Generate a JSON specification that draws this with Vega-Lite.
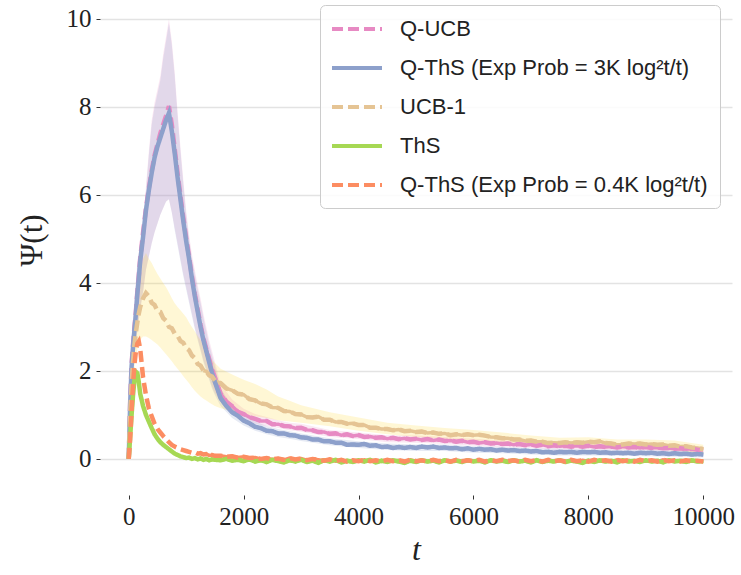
{
"$schema": "https://vega.github.io/schema/vega-lite/v6.json",
"width": 632, "height": 495,
"autosize": {"type": "none"},
"padding": {"left": 100, "top": 0, "right": 9, "bottom": 80},
"background": "white",
"config": {
  "view": {"stroke": null},
  "axis": {"labelFont": "Liberation Serif", "labelFontSize": 25, "labelColor": "#222222", "titleFont": "Liberation Serif", "titleColor": "#222222", "titleFontWeight": "normal", "domain": false, "tickColor": "#333333", "tickSize": 4, "tickWidth": 1, "gridColor": "#e3e3e3", "gridWidth": 1.6, "labelPadding": 5},
  "axisX": {"grid": false, "titleFontSize": 32, "titleFontStyle": "italic", "titleBaseline": "alphabetic", "titleY": 64, "format": "d"},
  "axisY": {"grid": true, "titleFontSize": 31, "titleX": -68, "titleY": 240, "titleBaseline": "middle"},
  "legend": {"orient": "none", "legendX": 220, "legendY": 5, "labelFont": "Liberation Sans", "labelFontSize": 22, "labelColor": "#222222", "labelLimit": 500, "symbolType": "M-2.5,0H2.5", "symbolSize": 400, "symbolStrokeWidth": 4, "symbolOffset": 13, "labelOffset": 31, "strokeColor": "#cccccc", "fillColor": "rgba(255,255,255,0.85)", "cornerRadius": 5, "padding": 12, "rowPadding": 16}
},
"datasets": {
"lines": [
{"t":0,"a":0,"b":0,"c":0,"d":0,"e":0},
{"t":25,"a":1.3,"b":1.25,"c":1.0,"d":0.5,"e":0.45},
{"t":50,"a":2.15,"b":2.1,"c":1.7,"d":1.0,"e":1.1},
{"t":75,"a":2.6,"b":2.55,"c":2.2,"d":1.45,"e":1.7},
{"t":100,"a":3.0,"b":2.95,"c":2.6,"d":1.8,"e":2.15},
{"t":125,"a":3.35,"b":3.3,"c":2.88,"d":1.98,"e":2.45},
{"t":150,"a":3.8,"b":3.75,"c":3.1,"d":1.95,"e":2.62},
{"t":175,"a":4.15,"b":4.1,"c":3.3,"d":1.75,"e":2.67},
{"t":200,"a":4.55,"b":4.5,"c":3.45,"d":1.48,"e":2.5},
{"t":250,"a":5.15,"b":5.05,"c":3.65,"d":1.2,"e":1.85},
{"t":300,"a":5.7,"b":5.65,"c":3.77,"d":1.0,"e":1.45},
{"t":350,"a":6.15,"b":6.1,"c":3.7,"d":0.85,"e":1.15},
{"t":400,"a":6.55,"b":6.5,"c":3.55,"d":0.7,"e":0.97},
{"t":450,"a":6.9,"b":6.85,"c":3.5,"d":0.56,"e":0.8},
{"t":500,"a":7.15,"b":7.1,"c":3.36,"d":0.46,"e":0.68},
{"t":550,"a":7.4,"b":7.3,"c":3.34,"d":0.38,"e":0.6},
{"t":600,"a":7.6,"b":7.5,"c":3.2,"d":0.32,"e":0.52},
{"t":650,"a":7.8,"b":7.7,"c":3.14,"d":0.27,"e":0.45},
{"t":700,"a":8.02,"b":7.86,"c":3.0,"d":0.22,"e":0.38},
{"t":750,"a":7.6,"b":7.45,"c":2.97,"d":0.17,"e":0.32},
{"t":800,"a":7.05,"b":6.95,"c":2.85,"d":0.12,"e":0.28},
{"t":850,"a":6.5,"b":6.4,"c":2.8,"d":0.09,"e":0.25},
{"t":900,"a":5.98,"b":5.9,"c":2.68,"d":0.06,"e":0.22},
{"t":950,"a":5.48,"b":5.4,"c":2.64,"d":0.04,"e":0.2},
{"t":1000,"a":5.02,"b":4.95,"c":2.52,"d":0.02,"e":0.18},
{"t":1050,"a":4.6,"b":4.55,"c":2.47,"d":0.03,"e":0.16},
{"t":1100,"a":4.15,"b":4.1,"c":2.35,"d":0.0,"e":0.14},
{"t":1150,"a":3.75,"b":3.7,"c":2.29,"d":0.02,"e":0.15},
{"t":1200,"a":3.4,"b":3.35,"c":2.16,"d":-0.01,"e":0.12},
{"t":1250,"a":3.05,"b":3.0,"c":2.12,"d":0.01,"e":0.13},
{"t":1300,"a":2.75,"b":2.7,"c":2.01,"d":-0.02,"e":0.1},
{"t":1350,"a":2.5,"b":2.45,"c":1.99,"d":0.0,"e":0.11},
{"t":1400,"a":2.27,"b":2.2,"c":1.9,"d":-0.03,"e":0.08},
{"t":1450,"a":2.03,"b":1.95,"c":1.87,"d":-0.01,"e":0.09},
{"t":1500,"a":1.85,"b":1.75,"c":1.78,"d":-0.02,"e":0.07},
{"t":1600,"a":1.48,"b":1.38,"c":1.72,"d":-0.03,"e":0.07},
{"t":1700,"a":1.3,"b":1.2,"c":1.6,"d":0.0,"e":0.05},
{"t":1800,"a":1.2,"b":1.06,"c":1.56,"d":-0.04,"e":0.06},
{"t":1900,"a":1.07,"b":0.98,"c":1.48,"d":-0.02,"e":0.03},
{"t":2000,"a":1.02,"b":0.87,"c":1.46,"d":-0.05,"e":0.05},
{"t":2100,"a":0.95,"b":0.81,"c":1.36,"d":-0.01,"e":0.02},
{"t":2200,"a":0.91,"b":0.73,"c":1.33,"d":-0.06,"e":0.03},
{"t":2300,"a":0.86,"b":0.7,"c":1.26,"d":-0.03,"e":0.0},
{"t":2400,"a":0.86,"b":0.64,"c":1.24,"d":-0.07,"e":0.02},
{"t":2500,"a":0.79,"b":0.63,"c":1.17,"d":-0.02,"e":-0.01},
{"t":2600,"a":0.79,"b":0.58,"c":1.16,"d":-0.05,"e":0.01},
{"t":2700,"a":0.75,"b":0.58,"c":1.09,"d":-0.08,"e":-0.02},
{"t":2800,"a":0.74,"b":0.54,"c":1.08,"d":-0.03,"e":0.02},
{"t":2900,"a":0.7,"b":0.53,"c":1.02,"d":-0.06,"e":-0.01},
{"t":3000,"a":0.71,"b":0.49,"c":1.01,"d":-0.02,"e":0.01},
{"t":3100,"a":0.66,"b":0.48,"c":0.95,"d":-0.07,"e":-0.03},
{"t":3200,"a":0.65,"b":0.44,"c":0.94,"d":-0.04,"e":0.0},
{"t":3300,"a":0.61,"b":0.44,"c":0.96,"d":-0.09,"e":-0.02},
{"t":3400,"a":0.61,"b":0.4,"c":0.89,"d":-0.03,"e":-0.04},
{"t":3500,"a":0.57,"b":0.4,"c":0.89,"d":-0.06,"e":-0.01},
{"t":3600,"a":0.58,"b":0.37,"c":0.84,"d":-0.02,"e":-0.05},
{"t":3700,"a":0.54,"b":0.37,"c":0.84,"d":-0.08,"e":-0.02},
{"t":3800,"a":0.56,"b":0.32,"c":0.8,"d":-0.04,"e":-0.06},
{"t":3900,"a":0.52,"b":0.33,"c":0.81,"d":-0.07,"e":-0.03},
{"t":4000,"a":0.54,"b":0.32,"c":0.77,"d":-0.03,"e":-0.05},
{"t":4100,"a":0.5,"b":0.34,"c":0.77,"d":-0.06,"e":-0.02},
{"t":4200,"a":0.51,"b":0.3,"c":0.71,"d":-0.02,"e":-0.05},
{"t":4300,"a":0.48,"b":0.31,"c":0.71,"d":-0.08,"e":-0.03},
{"t":4400,"a":0.49,"b":0.27,"c":0.68,"d":-0.04,"e":-0.06},
{"t":4500,"a":0.46,"b":0.28,"c":0.68,"d":-0.07,"e":-0.02},
{"t":4600,"a":0.48,"b":0.25,"c":0.65,"d":-0.03,"e":-0.05},
{"t":4700,"a":0.45,"b":0.27,"c":0.67,"d":-0.06,"e":-0.03},
{"t":4800,"a":0.47,"b":0.25,"c":0.63,"d":-0.09,"e":-0.06},
{"t":4900,"a":0.44,"b":0.27,"c":0.64,"d":-0.04,"e":-0.02},
{"t":5000,"a":0.46,"b":0.25,"c":0.61,"d":-0.07,"e":-0.05},
{"t":5100,"a":0.43,"b":0.28,"c":0.62,"d":-0.03,"e":-0.03},
{"t":5200,"a":0.45,"b":0.26,"c":0.59,"d":-0.06,"e":-0.06},
{"t":5300,"a":0.42,"b":0.28,"c":0.6,"d":-0.04,"e":-0.02},
{"t":5400,"a":0.44,"b":0.25,"c":0.57,"d":-0.08,"e":-0.05},
{"t":5500,"a":0.41,"b":0.26,"c":0.58,"d":-0.03,"e":-0.03},
{"t":5600,"a":0.42,"b":0.24,"c":0.54,"d":-0.06,"e":-0.06},
{"t":5700,"a":0.39,"b":0.25,"c":0.56,"d":-0.04,"e":-0.02},
{"t":5800,"a":0.41,"b":0.22,"c":0.54,"d":-0.07,"e":-0.05},
{"t":5900,"a":0.38,"b":0.24,"c":0.56,"d":-0.03,"e":-0.03},
{"t":6000,"a":0.39,"b":0.21,"c":0.54,"d":-0.06,"e":-0.05},
{"t":6100,"a":0.36,"b":0.23,"c":0.55,"d":-0.04,"e":-0.02},
{"t":6200,"a":0.38,"b":0.21,"c":0.53,"d":-0.08,"e":-0.06},
{"t":6300,"a":0.35,"b":0.22,"c":0.5,"d":-0.03,"e":-0.03},
{"t":6400,"a":0.36,"b":0.19,"c":0.49,"d":-0.06,"e":-0.05},
{"t":6500,"a":0.34,"b":0.21,"c":0.47,"d":-0.04,"e":-0.02},
{"t":6600,"a":0.35,"b":0.19,"c":0.47,"d":-0.07,"e":-0.05},
{"t":6700,"a":0.32,"b":0.2,"c":0.44,"d":-0.03,"e":-0.03},
{"t":6800,"a":0.34,"b":0.18,"c":0.44,"d":-0.06,"e":-0.06},
{"t":6900,"a":0.31,"b":0.19,"c":0.41,"d":-0.04,"e":-0.02},
{"t":7000,"a":0.33,"b":0.17,"c":0.42,"d":-0.08,"e":-0.05},
{"t":7100,"a":0.3,"b":0.18,"c":0.39,"d":-0.03,"e":-0.03},
{"t":7200,"a":0.32,"b":0.15,"c":0.39,"d":-0.07,"e":-0.06},
{"t":7300,"a":0.29,"b":0.16,"c":0.36,"d":-0.04,"e":-0.02},
{"t":7400,"a":0.31,"b":0.14,"c":0.37,"d":-0.06,"e":-0.05},
{"t":7500,"a":0.29,"b":0.16,"c":0.36,"d":-0.03,"e":-0.03},
{"t":7600,"a":0.3,"b":0.15,"c":0.38,"d":-0.07,"e":-0.06},
{"t":7700,"a":0.28,"b":0.16,"c":0.36,"d":-0.04,"e":-0.02},
{"t":7800,"a":0.3,"b":0.14,"c":0.38,"d":-0.06,"e":-0.05},
{"t":7900,"a":0.28,"b":0.16,"c":0.37,"d":-0.09,"e":-0.03},
{"t":8000,"a":0.3,"b":0.15,"c":0.39,"d":-0.04,"e":-0.06},
{"t":8100,"a":0.27,"b":0.16,"c":0.38,"d":-0.07,"e":-0.02},
{"t":8200,"a":0.29,"b":0.14,"c":0.4,"d":-0.03,"e":-0.05},
{"t":8300,"a":0.27,"b":0.15,"c":0.36,"d":-0.06,"e":-0.03},
{"t":8400,"a":0.28,"b":0.13,"c":0.35,"d":-0.04,"e":-0.06},
{"t":8500,"a":0.26,"b":0.14,"c":0.32,"d":-0.08,"e":-0.02},
{"t":8600,"a":0.28,"b":0.13,"c":0.33,"d":-0.03,"e":-0.05},
{"t":8700,"a":0.26,"b":0.14,"c":0.35,"d":-0.06,"e":-0.03},
{"t":8800,"a":0.27,"b":0.12,"c":0.34,"d":-0.04,"e":-0.06},
{"t":8900,"a":0.25,"b":0.14,"c":0.35,"d":-0.07,"e":-0.02},
{"t":9000,"a":0.27,"b":0.13,"c":0.33,"d":-0.03,"e":-0.05},
{"t":9100,"a":0.25,"b":0.14,"c":0.34,"d":-0.06,"e":-0.03},
{"t":9200,"a":0.26,"b":0.12,"c":0.32,"d":-0.04,"e":-0.06},
{"t":9300,"a":0.24,"b":0.13,"c":0.33,"d":-0.08,"e":-0.02},
{"t":9400,"a":0.25,"b":0.11,"c":0.3,"d":-0.03,"e":-0.05},
{"t":9500,"a":0.23,"b":0.13,"c":0.31,"d":-0.06,"e":-0.03},
{"t":9600,"a":0.24,"b":0.11,"c":0.28,"d":-0.04,"e":-0.06},
{"t":9700,"a":0.22,"b":0.12,"c":0.29,"d":-0.07,"e":-0.03},
{"t":9800,"a":0.23,"b":0.1,"c":0.26,"d":-0.03,"e":-0.05},
{"t":9900,"a":0.21,"b":0.11,"c":0.25,"d":-0.06,"e":-0.04},
{"t":10000,"a":0.2,"b":0.1,"c":0.22,"d":-0.05,"e":-0.06}
],
"bands": [
{"t":0,"blo":0,"bhi":0,"plo":0,"phi":0,"ulo":0,"uhi":0},
{"t":50,"blo":1.7,"bhi":2.6,"plo":1.7,"phi":2.7,"ulo":1.3,"uhi":2.1},
{"t":100,"blo":2.4,"bhi":3.5,"plo":2.4,"phi":3.6,"ulo":2.1,"uhi":3.2},
{"t":150,"blo":2.9,"bhi":4.4,"plo":2.9,"phi":4.5,"ulo":2.5,"uhi":3.8},
{"t":200,"blo":3.4,"bhi":4.8,"plo":3.4,"phi":4.9,"ulo":2.7,"uhi":4.25},
{"t":250,"blo":3.8,"bhi":5.2,"plo":3.8,"phi":5.3,"ulo":2.78,"uhi":4.55},
{"t":300,"blo":4.3,"bhi":6.1,"plo":4.3,"phi":6.2,"ulo":2.78,"uhi":4.68},
{"t":350,"blo":4.6,"bhi":6.9,"plo":4.6,"phi":7.0,"ulo":2.75,"uhi":4.55},
{"t":400,"blo":4.9,"bhi":7.6,"plo":4.9,"phi":7.7,"ulo":2.7,"uhi":4.45},
{"t":450,"blo":5.15,"bhi":8.0,"plo":5.15,"phi":8.1,"ulo":2.65,"uhi":4.32},
{"t":500,"blo":5.35,"bhi":8.3,"plo":5.35,"phi":8.4,"ulo":2.6,"uhi":4.2},
{"t":550,"blo":5.55,"bhi":8.6,"plo":5.55,"phi":8.7,"ulo":2.53,"uhi":4.1},
{"t":600,"blo":5.7,"bhi":9.1,"plo":5.7,"phi":9.2,"ulo":2.45,"uhi":4.0},
{"t":650,"blo":5.85,"bhi":9.5,"plo":5.85,"phi":9.6,"ulo":2.38,"uhi":3.9},
{"t":700,"blo":5.9,"bhi":9.9,"plo":5.9,"phi":10.0,"ulo":2.3,"uhi":3.78},
{"t":750,"blo":5.6,"bhi":9.4,"plo":5.6,"phi":9.5,"ulo":2.22,"uhi":3.65},
{"t":800,"blo":5.2,"bhi":8.7,"plo":5.25,"phi":8.8,"ulo":2.13,"uhi":3.54},
{"t":850,"blo":4.85,"bhi":7.8,"plo":4.9,"phi":7.9,"ulo":2.05,"uhi":3.45},
{"t":900,"blo":4.5,"bhi":7.0,"plo":4.55,"phi":7.1,"ulo":1.97,"uhi":3.38},
{"t":950,"blo":4.15,"bhi":6.25,"plo":4.2,"phi":6.35,"ulo":1.88,"uhi":3.3},
{"t":1000,"blo":3.85,"bhi":5.55,"plo":3.9,"phi":5.65,"ulo":1.8,"uhi":3.22},
{"t":1050,"blo":3.55,"bhi":5.0,"plo":3.6,"phi":5.1,"ulo":1.72,"uhi":3.1},
{"t":1100,"blo":3.25,"bhi":4.55,"plo":3.3,"phi":4.65,"ulo":1.63,"uhi":3.0},
{"t":1150,"blo":2.95,"bhi":4.2,"plo":3.0,"phi":4.3,"ulo":1.55,"uhi":2.9},
{"t":1200,"blo":2.7,"bhi":3.85,"plo":2.75,"phi":3.95,"ulo":1.48,"uhi":2.8},
{"t":1250,"blo":2.45,"bhi":3.55,"plo":2.5,"phi":3.65,"ulo":1.42,"uhi":2.7},
{"t":1300,"blo":2.2,"bhi":3.2,"plo":2.25,"phi":3.3,"ulo":1.37,"uhi":2.6},
{"t":1350,"blo":2.0,"bhi":2.9,"plo":2.05,"phi":3.0,"ulo":1.33,"uhi":2.48},
{"t":1400,"blo":1.8,"bhi":2.6,"plo":1.85,"phi":2.7,"ulo":1.28,"uhi":2.35},
{"t":1450,"blo":1.6,"bhi":2.35,"plo":1.65,"phi":2.45,"ulo":1.24,"uhi":2.25},
{"t":1500,"blo":1.45,"bhi":2.1,"plo":1.5,"phi":2.2,"ulo":1.2,"uhi":2.18},
{"t":1600,"blo":1.2,"bhi":1.6,"plo":1.3,"phi":1.7,"ulo":1.15,"uhi":2.05},
{"t":1800,"blo":0.93,"bhi":1.2,"plo":1.05,"phi":1.35,"ulo":1.08,"uhi":1.92},
{"t":2000,"blo":0.76,"bhi":1.0,"plo":0.9,"phi":1.14,"ulo":1.02,"uhi":1.8},
{"t":2200,"blo":0.64,"bhi":0.85,"plo":0.8,"phi":1.02,"ulo":0.97,"uhi":1.7},
{"t":2400,"blo":0.56,"bhi":0.75,"plo":0.75,"phi":0.95,"ulo":0.93,"uhi":1.58},
{"t":2600,"blo":0.5,"bhi":0.68,"plo":0.7,"phi":0.88,"ulo":0.88,"uhi":1.42},
{"t":2800,"blo":0.46,"bhi":0.63,"plo":0.65,"phi":0.82,"ulo":0.85,"uhi":1.32},
{"t":3000,"blo":0.41,"bhi":0.58,"plo":0.62,"phi":0.8,"ulo":0.82,"uhi":1.22},
{"t":3500,"blo":0.31,"bhi":0.47,"plo":0.5,"phi":0.66,"ulo":0.74,"uhi":1.06},
{"t":4000,"blo":0.25,"bhi":0.4,"plo":0.45,"phi":0.6,"ulo":0.64,"uhi":0.94},
{"t":4500,"blo":0.2,"bhi":0.35,"plo":0.38,"phi":0.54,"ulo":0.56,"uhi":0.82},
{"t":5000,"blo":0.18,"bhi":0.33,"plo":0.37,"phi":0.53,"ulo":0.5,"uhi":0.76},
{"t":5500,"blo":0.18,"bhi":0.33,"plo":0.34,"phi":0.5,"ulo":0.46,"uhi":0.7},
{"t":6000,"blo":0.14,"bhi":0.29,"plo":0.3,"phi":0.46,"ulo":0.42,"uhi":0.66},
{"t":6500,"blo":0.13,"bhi":0.27,"plo":0.26,"phi":0.42,"ulo":0.37,"uhi":0.6},
{"t":7000,"blo":0.1,"bhi":0.24,"plo":0.25,"phi":0.4,"ulo":0.31,"uhi":0.53},
{"t":7500,"blo":0.08,"bhi":0.23,"plo":0.21,"phi":0.37,"ulo":0.27,"uhi":0.48},
{"t":8000,"blo":0.08,"bhi":0.22,"plo":0.22,"phi":0.37,"ulo":0.28,"uhi":0.49},
{"t":8500,"blo":0.07,"bhi":0.21,"plo":0.19,"phi":0.34,"ulo":0.22,"uhi":0.44},
{"t":9000,"blo":0.06,"bhi":0.2,"plo":0.19,"phi":0.34,"ulo":0.22,"uhi":0.44},
{"t":9500,"blo":0.05,"bhi":0.19,"plo":0.16,"phi":0.3,"ulo":0.19,"uhi":0.42},
{"t":10000,"blo":0.03,"bhi":0.17,"plo":0.13,"phi":0.28,"ulo":0.12,"uhi":0.32}
]
},
"layer": [
{"data": {"name": "bands"},
 "mark": {"type": "area", "color": "#e78ac3", "opacity": 0.2},
 "encoding": {
  "x": {"field": "t", "type": "quantitative", "title": "t", "scale": {"domain": [-500, 10500], "nice": false, "zero": false}, "axis": {"values": [0, 2000, 4000, 6000, 8000, 10000]}},
  "y": {"field": "plo", "type": "quantitative", "title": "Ψ(t)", "scale": {"domain": [-0.82, 10.43], "nice": false, "zero": false}, "axis": {"values": [0, 2, 4, 6, 8, 10]}},
  "y2": {"field": "phi"}}},
{"data": {"name": "bands"},
 "mark": {"type": "area", "color": "#8da0cb", "opacity": 0.22},
 "encoding": {
  "x": {"field": "t", "type": "quantitative", "title": "t"},
  "y": {"field": "blo", "type": "quantitative", "title": "Ψ(t)"},
  "y2": {"field": "bhi"}}},
{"data": {"name": "bands"},
 "mark": {"type": "area", "color": "#ffd92f", "opacity": 0.2},
 "encoding": {
  "x": {"field": "t", "type": "quantitative", "title": "t"},
  "y": {"field": "ulo", "type": "quantitative", "title": "Ψ(t)"},
  "y2": {"field": "uhi"}}},
{"data": {"name": "lines"},
 "transform": [{"fold": ["a", "b", "c", "d", "e"], "as": ["s", "v"]}, {"filter": "datum.t >= 1300"}],
 "mark": {"type": "line", "strokeWidth": 3.5},
 "encoding": {
  "x": {"field": "t", "type": "quantitative", "title": "t"},
  "y": {"field": "v", "type": "quantitative", "title": "Ψ(t)"},
  "color": {"field": "s", "type": "nominal", "title": null,
    "scale": {"domain": ["a", "b", "c", "d", "e"], "range": ["#e78ac3", "#8da0cb", "#e5c494", "#a6d854", "#fc8d62"]},
    "legend": {"labelExpr": "datum.value == 'a' ? 'Q-UCB' : datum.value == 'b' ? 'Q-ThS (Exp Prob = 3K log²t/t)' : datum.value == 'c' ? 'UCB-1' : datum.value == 'd' ? 'ThS' : 'Q-ThS (Exp Prob = 0.4K log²t/t)'"}}}},
{"data": {"name": "lines"},
 "transform": [{"fold": ["a", "b", "c", "d", "e"], "as": ["s", "v"]}],
 "mark": {"type": "line", "strokeWidth": 4.5},
 "encoding": {
  "x": {"field": "t", "type": "quantitative", "title": "t"},
  "y": {"field": "v", "type": "quantitative", "title": "Ψ(t)"},
  "color": {"field": "s", "type": "nominal", "title": null,
    "scale": {"domain": ["a", "b", "c", "d", "e"], "range": ["#e78ac3", "#8da0cb", "#e5c494", "#a6d854", "#fc8d62"]},
    "legend": {"labelExpr": "datum.value == 'a' ? 'Q-UCB' : datum.value == 'b' ? 'Q-ThS (Exp Prob = 3K log²t/t)' : datum.value == 'c' ? 'UCB-1' : datum.value == 'd' ? 'ThS' : 'Q-ThS (Exp Prob = 0.4K log²t/t)'"}},
  "strokeDash": {"field": "s", "type": "nominal", "title": null,
    "scale": {"domain": ["a", "b", "c", "d", "e"], "range": [[11, 5], [1, 0], [11, 5], [1, 0], [11, 5]]},
    "legend": {"labelExpr": "datum.value == 'a' ? 'Q-UCB' : datum.value == 'b' ? 'Q-ThS (Exp Prob = 3K log²t/t)' : datum.value == 'c' ? 'UCB-1' : datum.value == 'd' ? 'ThS' : 'Q-ThS (Exp Prob = 0.4K log²t/t)'"}}}}
]
}
